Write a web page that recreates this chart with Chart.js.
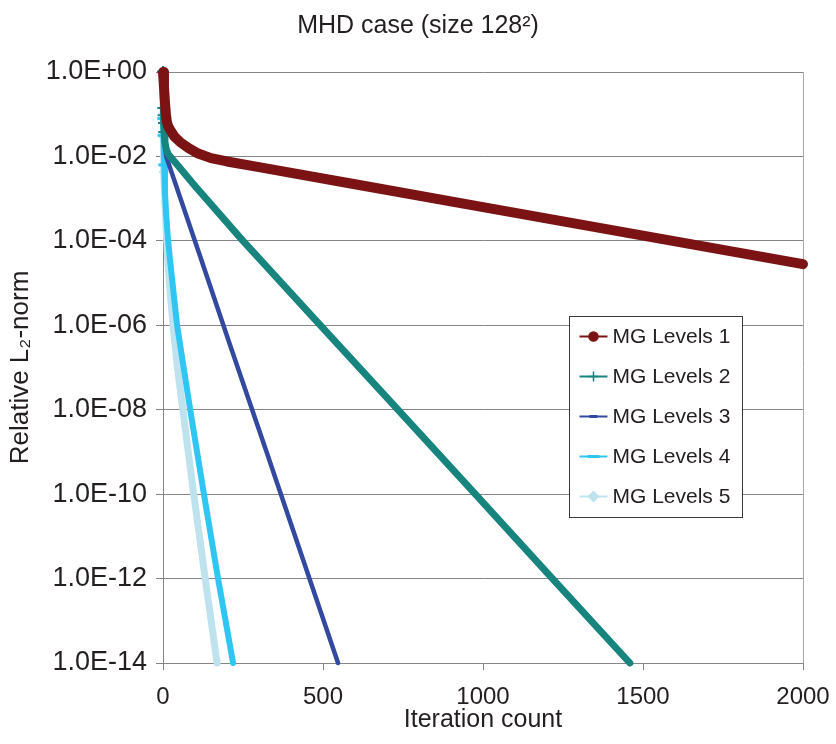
<!DOCTYPE html>
<html>
<head>
<meta charset="utf-8">
<script src="https://cdn.jsdelivr.net/npm/chart.js@4/dist/chart.umd.min.js"></script>
<style>
  html, body { margin: 0; padding: 0; background: #fff; }
  canvas { display: block; }
</style>
</head>
<body>
<canvas id="mgChart" width="836" height="744"></canvas>
<script>
// --- data (iteration, relative L2-norm) ---
const seriesNames = ["MG Levels 1", "MG Levels 2", "MG Levels 3", "MG Levels 4", "MG Levels 5"];

const lvl1Iter = [0, 3, 6, 9, 12, 16, 22, 35, 55, 80, 110, 150, 200, 300, 600, 1000, 1500, 2000];
const lvl1Norm = [1, 0.45, 0.2, 0.1, 0.066, 0.052, 0.043, 0.030, 0.0214, 0.0158, 0.0117, 0.0091, 0.0076, 0.00556, 0.00219, 6.3e-4, 1.33e-4, 2.8e-5];

const lvl2Iter = [0, 1, 2, 3, 4, 6, 10, 16, 22, 40, 100, 250, 492, 734, 976, 1217, 1459];
const lvl2Norm = [1, 0.14, 0.095, 0.062, 0.038, 0.022, 0.015, 0.0115, 0.01, 7e-3, 2e-3, 1e-4, 1e-6, 1e-8, 1e-10, 1e-12, 1e-14];

const lvl3Iter = [0, 2, 5, 10, 116, 209, 320, 428, 547];
const lvl3Norm = [1, 0.08, 0.02, 0.01, 4.3e-5, 3.5e-7, 1.2e-9, 4.6e-12, 1e-14];

const lvl4Iter = [0, 1, 2, 4, 6, 10, 15, 22, 44, 85, 128, 172, 219];
const lvl4Norm = [1, 0.079, 0.0316, 6.3e-3, 1.35e-3, 4e-4, 1.26e-4, 3.5e-5, 1e-6, 1e-8, 1e-10, 1e-12, 1e-14];

const lvl5Iter = [0, 1, 2, 3, 6, 10, 15, 20, 30, 45, 62, 96, 132, 169];
const lvl5Norm = [1, 0.1, 0.029, 4.3e-3, 8.9e-4, 1.8e-4, 3.5e-5, 1e-5, 1.26e-6, 1e-7, 1e-8, 1e-10, 1e-12, 1e-14];

const xTickValues = [0, 500, 1000, 1500, 2000];
const yTickValues = [1e0, 1e-2, 1e-4, 1e-6, 1e-8, 1e-10, 1e-12, 1e-14];

const FONT = "'Liberation Sans', Arial, sans-serif";
const TEXT = "#231f20";
const GRID = "#858585";

function toPoints(iters, norms) {
  return iters.map((it, i) => ({ x: it, y: norms[i] }));
}

// "1.0E-02" style labels
function sciLabel(v) {
  const e = Math.round(Math.log10(v));
  return "1.0E" + (e < 0 ? "-" : "+") + String(Math.abs(e)).padStart(2, "0");
}

// only the first few points show their marker, the rest melt into the thick line
function earlyRadius(r) {
  return (c) => (c.raw && c.raw.x <= 4 ? r : 0);
}

const datasets = [
  { label: seriesNames[0], data: toPoints(lvl1Iter, lvl1Norm), borderColor: "#7b1315", backgroundColor: "#7b1315",
    borderWidth: 10, pointRadius: 0, pointStyle: "circle", legendRadius: 4.5 },
  { label: seriesNames[1], data: toPoints(lvl2Iter, lvl2Norm), borderColor: "#17847e", backgroundColor: "#17847e",
    borderWidth: 7, pointStyle: "cross", pointRadius: earlyRadius(6), pointBorderWidth: 2, legendRadius: 5 },
  { label: seriesNames[2], data: toPoints(lvl3Iter, lvl3Norm), borderColor: "#3349a0", backgroundColor: "#3349a0",
    borderWidth: 4.5, pointRadius: 0, pointStyle: "line", legendRadius: 4 },
  { label: seriesNames[3], data: toPoints(lvl4Iter, lvl4Norm), borderColor: "#2fc6f3", backgroundColor: "#2fc6f3",
    borderWidth: 6, pointStyle: "line", pointRadius: earlyRadius(6), pointBorderWidth: 3, legendRadius: 6 },
  { label: seriesNames[4], data: toPoints(lvl5Iter, lvl5Norm), borderColor: "#bfe3ee", backgroundColor: "#bfe3ee",
    borderWidth: 7, pointStyle: "rectRot", pointRadius: earlyRadius(5), pointBorderWidth: 1, legendRadius: 5 }
];

// legend box drawn inside the plot, like the original
const mgLegend = {
  id: "mgLegend",
  afterDatasetsDraw(chart) {
    const ctx = chart.ctx;
    const area = chart.chartArea;
    const bx = Math.round(area.right - 234) + 0.5;
    const by = Math.round(area.top + 244) + 0.5;
    const bw = 173, bh = 201;
    ctx.save();
    ctx.fillStyle = "#fff";
    ctx.fillRect(bx, by, bw, bh);
    ctx.strokeStyle = "#3a3a3a";
    ctx.lineWidth = 1;
    ctx.strokeRect(bx, by, bw, bh);
    ctx.font = "21px " + FONT;
    ctx.textBaseline = "middle";
    ctx.textAlign = "left";
    chart.data.datasets.forEach((ds, i) => {
      const y = by + 20 + i * 40;
      const x0 = bx + 10, x1 = bx + 38;
      ctx.strokeStyle = ds.borderColor;
      ctx.fillStyle = ds.borderColor;
      ctx.lineWidth = 2;
      ctx.beginPath();
      ctx.moveTo(x0, y);
      ctx.lineTo(x1, y);
      ctx.stroke();
      ctx.lineWidth = ds.pointStyle === "line" ? 3 : 1.5;
      Chart.helpers.drawPoint(ctx, { pointStyle: ds.pointStyle, radius: ds.legendRadius, borderWidth: ctx.lineWidth, rotation: 0 }, (x0 + x1) / 2, y);
      ctx.fillStyle = TEXT;
      ctx.fillText(ds.label, bx + 43, y + 1);
    });
    ctx.restore();
  }
};

const chart = new Chart(document.getElementById("mgChart"), {
  type: "line",
  data: { datasets: datasets },
  plugins: [mgLegend],
  options: {
    responsive: false,
    animation: false,
    clip: false,
    layout: { padding: 0 },
    elements: {
      line: { tension: 0, borderCapStyle: "round", borderJoinStyle: "round" },
      point: { hoverRadius: 0 }
    },
    plugins: {
      legend: { display: false },
      tooltip: { enabled: false },
      title: {
        display: true,
        text: "MHD case (size 128²)",
        color: TEXT,
        font: { family: FONT, size: 25, weight: "normal" },
        padding: { top: 11, bottom: 31 }
      }
    },
    scales: {
      x: {
        type: "linear",
        min: 0,
        max: 2000,
        afterBuildTicks: (s) => { s.ticks = xTickValues.map(v => ({ value: v })); },
        afterFit: (s) => { s.height = 81; s.paddingRight = 33; },
        ticks: { color: TEXT, font: { family: FONT, size: 24 }, padding: 13, maxRotation: 0, callback: (v) => String(v) },
        grid: {
          color: (c) => (c.tick && c.tick.value === 2000 ? "#a8a8a8" : "rgba(0,0,0,0)"),
          tickColor: GRID,
          tickLength: 7
        },
        border: { color: GRID },
        title: {
          display: true,
          text: "Iteration count",
          color: TEXT,
          font: { family: FONT, size: 25 },
          padding: { top: 0, bottom: 9 }
        }
      },
      y: {
        type: "logarithmic",
        min: 1e-14,
        max: 1,
        afterBuildTicks: (s) => { s.ticks = yTickValues.map(v => ({ value: v })); },
        afterFit: (s) => { s.width = 163; },
        ticks: { color: TEXT, font: { family: FONT, size: 27 }, padding: 9, callback: (v) => sciLabel(v) },
        grid: { color: GRID, tickColor: GRID, tickLength: 7 },
        border: { color: GRID },
        title: {
          display: true,
          text: "Relative L₂-norm",
          color: TEXT,
          font: { family: FONT, size: 26 },
          padding: { top: 5, bottom: 0 }
        }
      }
    }
  }
});
</script>
</body>
</html>
